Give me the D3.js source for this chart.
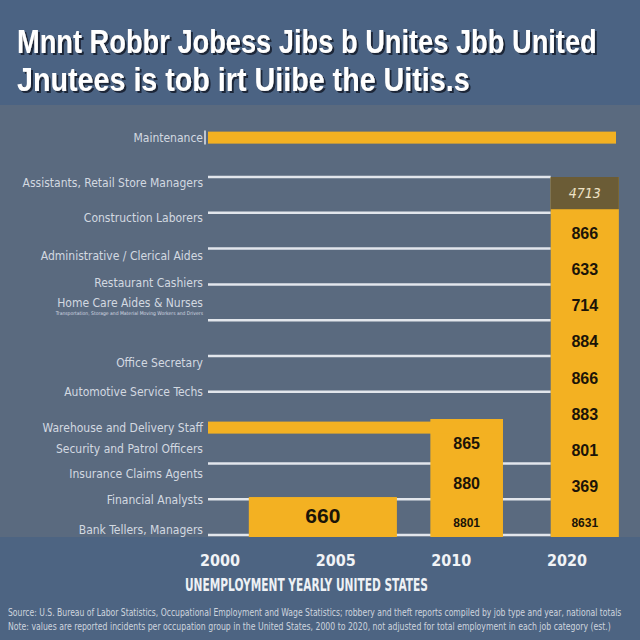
<!DOCTYPE html>
<html>
<head>
<meta charset="utf-8">
<script src="https://cdn.jsdelivr.net/npm/d3@7"></script>
<style>
  body { margin: 0; background: #5a6a7f; }
</style>
</head>
<body>
<svg id="chart"></svg>
<script>
// chart data
const titleLines = ["Mnnt Robbr Jobess Jibs b Unites Jbb United", "Jnutees is tob  irt Uiibe the Uitis.s"];
const jobs = [
  "Maintenance",
  "Assistants, Retail Store Managers",
  "Construction Laborers",
  "Administrative / Clerical Aides",
  "Restaurant Cashiers",
  "Home Care Aides & Nurses",
  "Transportation, Storage and Material Moving Workers and Drivers",
  "Office Secretary",
  "Automotive Service Techs",
  "Warehouse and Delivery Staff",
  "Security and Patrol Officers",
  "Insurance Claims Agents",
  "Financial Analysts",
  "Bank Tellers, Managers"
];
const jobScores = [1110, 985, 885, 780, 705, 650, 620, 480, 400, 300, 240, 170, 98, 14];
const barJobs = ["Maintenance", "Warehouse and Delivery Staff"];
const barValues = [100, 72.3];
const gridValues = [0, 100, 200, 400, 500, 600, 700, 800, 900, 1000];
const columnStarts = [10, 54.5, 84];
const columnEnds = [46.3, 72.3, 100.7];
const columnValues = [106, 324, 1000];
const columnLabels = [
  ["660"],
  ["865", "880", "8801"],
  ["866", "633", "714", "884", "866", "883", "801", "369", "8631"]
];
const headerLabel = "4713";
const headerValue = 910;
const years = ["2000", "2005", "2010", "2020"];
const axisTitle = "UNEMPLOYMENT YEARLY UNITED STATES";
const footnotes = [
  "Source: U.S. Bureau of Labor Statistics, Occupational Employment and Wage Statistics; robbery and theft reports compiled by job type and year, national totals",
  "Note: values are reported incidents per occupation group in the United States, 2000 to 2020, not adjusted for total employment in each job category (est.)"
];

const W = 640, H = 640;
const svg = d3.select("#chart").attr("width", W).attr("height", H);

const shadow = svg.append("defs").append("filter").attr("id", "shadow")
  .attr("x", "-5%").attr("y", "-20%").attr("width", "110%").attr("height", "140%");
shadow.append("feDropShadow")
  .attr("dx", 2).attr("dy", 2).attr("stdDeviation", 0.6)
  .attr("flood-color", "#1d2838").attr("flood-opacity", 1);

// background bands
svg.append("rect").attr("width", W).attr("height", H).attr("fill", "#5a6a7f");
svg.append("rect").attr("width", W).attr("height", 105).attr("fill", "#4b6383");
svg.append("rect").attr("y", 537).attr("width", W).attr("height", H - 537).attr("fill", "#4d6482");

// scales
const x = d3.scaleLinear().domain([0, 100]).range([208, 616]);
const y = d3.scaleLinear().domain([0, 1000]).range([535, 177]);
const xYear = d3.scalePoint().domain(years).range([220, 567]);
const scoreOf = d => jobScores[jobs.indexOf(d)];

const condensed = "'Liberation Sans Narrow', 'DejaVu Sans Condensed', 'Liberation Sans', sans-serif";

// squeeze a text horizontally to a target width (the reference uses a narrow face)
function fitWidth(sel, x0, y0, target) {
  sel.each(function (d, i) {
    const t = d3.select(this);
    const w = this.getComputedTextLength();
    const tw = typeof target === "function" ? target(d, i) : target;
    const yy = typeof y0 === "function" ? y0(d, i) : y0;
    t.attr("transform", `translate(${x0},${yy}) scale(${Math.min(1, tw / w)},1)`);
  });
}

// title
svg.append("g").attr("filter", "url(#shadow)")
  .selectAll("text")
  .data(titleLines)
  .join("text")
  .attr("font-family", "'Liberation Sans', Arial, sans-serif")
  .attr("font-weight", 700).attr("font-size", 33)
  .attr("fill", "#ffffff")
  .text(d => d)
  .call(fitWidth, 17, (d, i) => 53 + i * 38, (d, i) => i === 0 ? 580 : 453);

// gridlines
svg.append("g").selectAll("line")
  .data(gridValues)
  .join("line")
  .attr("x1", x(0)).attr("x2", x(84))
  .attr("y1", d => y(d)).attr("y2", d => y(d))
  .attr("stroke", "#e2e6ec").attr("stroke-width", 2.5);

// job labels
svg.append("g").selectAll("text")
  .data(jobs)
  .join("text")
  .attr("x", 203)
  .attr("y", d => y(scoreOf(d)))
  .attr("dy", "0.35em")
  .attr("text-anchor", "end")
  .attr("font-family", condensed)
  .attr("font-size", (d, i) => i === 6 ? 5 : 12)
  .attr("fill", "#d3d9e1")
  .text(d => d);

// small stub left of top bar
svg.append("line")
  .attr("x1", x(0) - 3).attr("x2", x(0) - 3)
  .attr("y1", y(scoreOf(barJobs[0])) - 7).attr("y2", y(scoreOf(barJobs[0])) + 7)
  .attr("stroke", "#e2e6ec").attr("stroke-width", 1.5);

// columns
const cols = columnValues.map((v, i) => ({ x0: columnStarts[i], x1: columnEnds[i], v, labels: columnLabels[i] }));
svg.append("g").selectAll("rect")
  .data(cols)
  .join("rect")
  .attr("x", d => x(d.x0))
  .attr("width", d => x(d.x1) - x(d.x0))
  .attr("y", d => y(d.v))
  .attr("height", d => y(0) + 2 - y(d.v))
  .attr("fill", "#f3b122");

// dark header on the tallest column
const last = cols[cols.length - 1];
svg.append("rect")
  .attr("x", x(last.x0)).attr("width", x(last.x1) - x(last.x0))
  .attr("y", y(last.v)).attr("height", y(headerValue) - y(last.v))
  .attr("fill", "#6b5c36");
svg.append("text")
  .attr("x", (x(last.x0) + x(last.x1)) / 2)
  .attr("y", (y(last.v) + y(headerValue)) / 2)
  .attr("dy", "0.35em").attr("text-anchor", "middle")
  .attr("font-family", condensed).attr("font-style", "italic")
  .attr("font-size", 14).attr("fill", "#efe3c6")
  .text(headerLabel);

// horizontal bars
svg.append("g").selectAll("rect")
  .data(barJobs)
  .join("rect")
  .attr("x", x(0))
  .attr("y", d => y(scoreOf(d)) - 6)
  .attr("width", (d, i) => x(barValues[i]) - x(0))
  .attr("height", 12)
  .attr("fill", "#f3b122");

// labels inside columns
cols.forEach(c => {
  const topY = c === last ? y(headerValue) : y(c.v);
  const big = c.labels.length === 1;
  const pos = d3.scalePoint()
    .domain(d3.range(c.labels.length))
    .range(big ? [topY, y(0)] : [topY + 24, y(0) - 12]);
  svg.append("g").selectAll("text")
    .data(c.labels)
    .join("text")
    .attr("x", (x(c.x0) + x(c.x1)) / 2)
    .attr("y", (d, i) => pos(i))
    .attr("dy", "0.35em")
    .attr("text-anchor", "middle")
    .attr("font-family", "'Liberation Sans', Arial, sans-serif")
    .attr("font-weight", 700)
    .attr("font-size", (d, i) => big ? 21 : (i === c.labels.length - 1 ? 12 : 16))
    .attr("fill", "#1b1408")
    .text(d => d);
});

// year axis
svg.append("g").selectAll("text")
  .data(years)
  .join("text")
  .attr("x", d => xYear(d))
  .attr("y", 560)
  .attr("dy", "0.35em")
  .attr("text-anchor", "middle")
  .attr("font-family", condensed)
  .attr("font-weight", 700)
  .attr("font-size", 16)
  .attr("fill", "#f1f3f6")
  .text(d => d);

svg.append("text")
  .attr("font-family", condensed).attr("font-weight", 700)
  .attr("font-size", 17).attr("fill", "#eef1f5")
  .text(axisTitle)
  .call(fitWidth, 185, 591, 243);

// footnote
svg.append("g").selectAll("text")
  .data(footnotes)
  .join("text")
  .attr("font-family", condensed)
  .attr("font-size", 10)
  .attr("fill", "#cdd4de")
  .text(d => d)
  .call(fitWidth, 8, (d, i) => 616 + i * 14, (d, i) => i === 0 ? 614 : 604);
</script>
</body>
</html>
